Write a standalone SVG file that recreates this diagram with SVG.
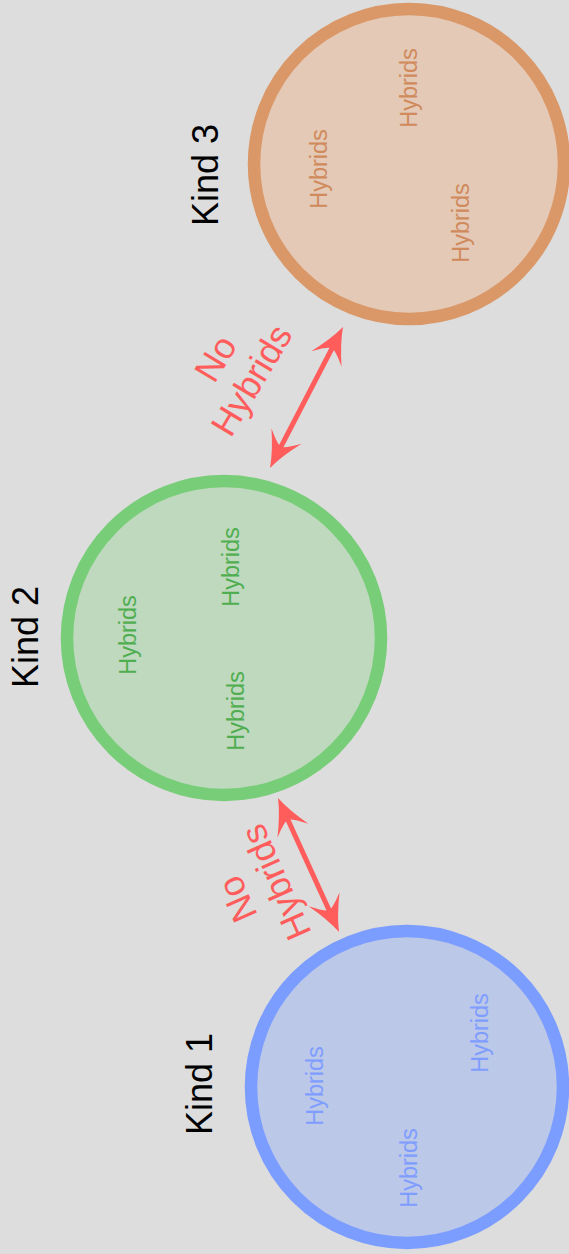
<svg xmlns="http://www.w3.org/2000/svg" width="569" height="1254" viewBox="0 0 569 1254">
  <style>
    text { font-family: "Liberation Sans", Arial, sans-serif; text-anchor: middle; }
    .kind { font-size: 36px; fill: #000000; }
    .hyb { font-size: 23.5px; }
    .nohyb { font-size: 36px; fill: #ff5c5c; }
    .ring { stroke-width: 12.5; }
    .c1 { fill: #bcc8e8; stroke: #7b9dff; }
    .c2 { fill: #bfd9bf; stroke: #78cd78; }
    .c3 { fill: #e3c9b6; stroke: #da9868; }
    .t1 { fill: #7f9dff; }
    .t2 { fill: #4fae4f; }
    .t3 { fill: #d08a5c; }
    .link { stroke: #ff5c5c; stroke-width: 5; fill: none; marker-start: url(#head); marker-end: url(#head); }
  </style>
  <defs>
    <marker id="head" markerUnits="userSpaceOnUse" orient="auto-start-reverse" refX="0" refY="0" markerWidth="40" markerHeight="40" overflow="visible">
      <path d="M20,0 Q4,-5 -16,-17 Q-4,-4 -4,0 Q-4,4 -16,17 Q4,5 20,0 Z" fill="#ff5c5c"/>
    </marker>
  </defs>

  <rect width="569" height="1254" fill="#dddddd"/>

  <!-- Kind 3 -->
  <g id="kind3">
    <circle class="ring c3" cx="409" cy="164" r="155"/>
    <text class="kind" transform="translate(218,175) rotate(-90)">Kind 3</text>
    <text class="hyb t3" transform="translate(327,169) rotate(-90)">Hybrids</text>
    <text class="hyb t3" transform="translate(417,88) rotate(-90)">Hybrids</text>
    <text class="hyb t3" transform="translate(469,223) rotate(-90)">Hybrids</text>
  </g>

  <!-- Kind 2 -->
  <g id="kind2">
    <circle class="ring c2" cx="224" cy="638" r="157"/>
    <text class="kind" transform="translate(38,637) rotate(-90)">Kind 2</text>
    <text class="hyb t2" transform="translate(136,635) rotate(-90)">Hybrids</text>
    <text class="hyb t2" transform="translate(239,567) rotate(-90)">Hybrids</text>
    <text class="hyb t2" transform="translate(244,711) rotate(-90)">Hybrids</text>
  </g>

  <!-- Kind 1 -->
  <g id="kind1">
    <circle class="ring c1" cx="407" cy="1087" r="156"/>
    <text class="kind" transform="translate(212,1084) rotate(-90)">Kind 1</text>
    <text class="hyb t1" transform="translate(323,1086) rotate(-90)">Hybrids</text>
    <text class="hyb t1" transform="translate(417,1168) rotate(-90)">Hybrids</text>
    <text class="hyb t1" transform="translate(488,1033) rotate(-90)">Hybrids</text>
  </g>

  <!-- connectors -->
  <g id="connectors">
    <path class="link" d="M279.2,450.2 L333.8,344.8"/>
    <path class="link" d="M286.3,816.2 L330.7,913.8"/>
  </g>

  <!-- connector labels -->
  <g id="label-2-3" transform="translate(233,369) rotate(-59)">
    <text class="nohyb" x="0" y="-8">No</text>
    <text class="nohyb" x="0" y="34">Hybrids</text>
  </g>
  <g id="label-1-2" transform="translate(256,891) rotate(-114)">
    <text class="nohyb" x="0" y="-8">No</text>
    <text class="nohyb" x="0" y="34">Hybrids</text>
  </g>
</svg>
